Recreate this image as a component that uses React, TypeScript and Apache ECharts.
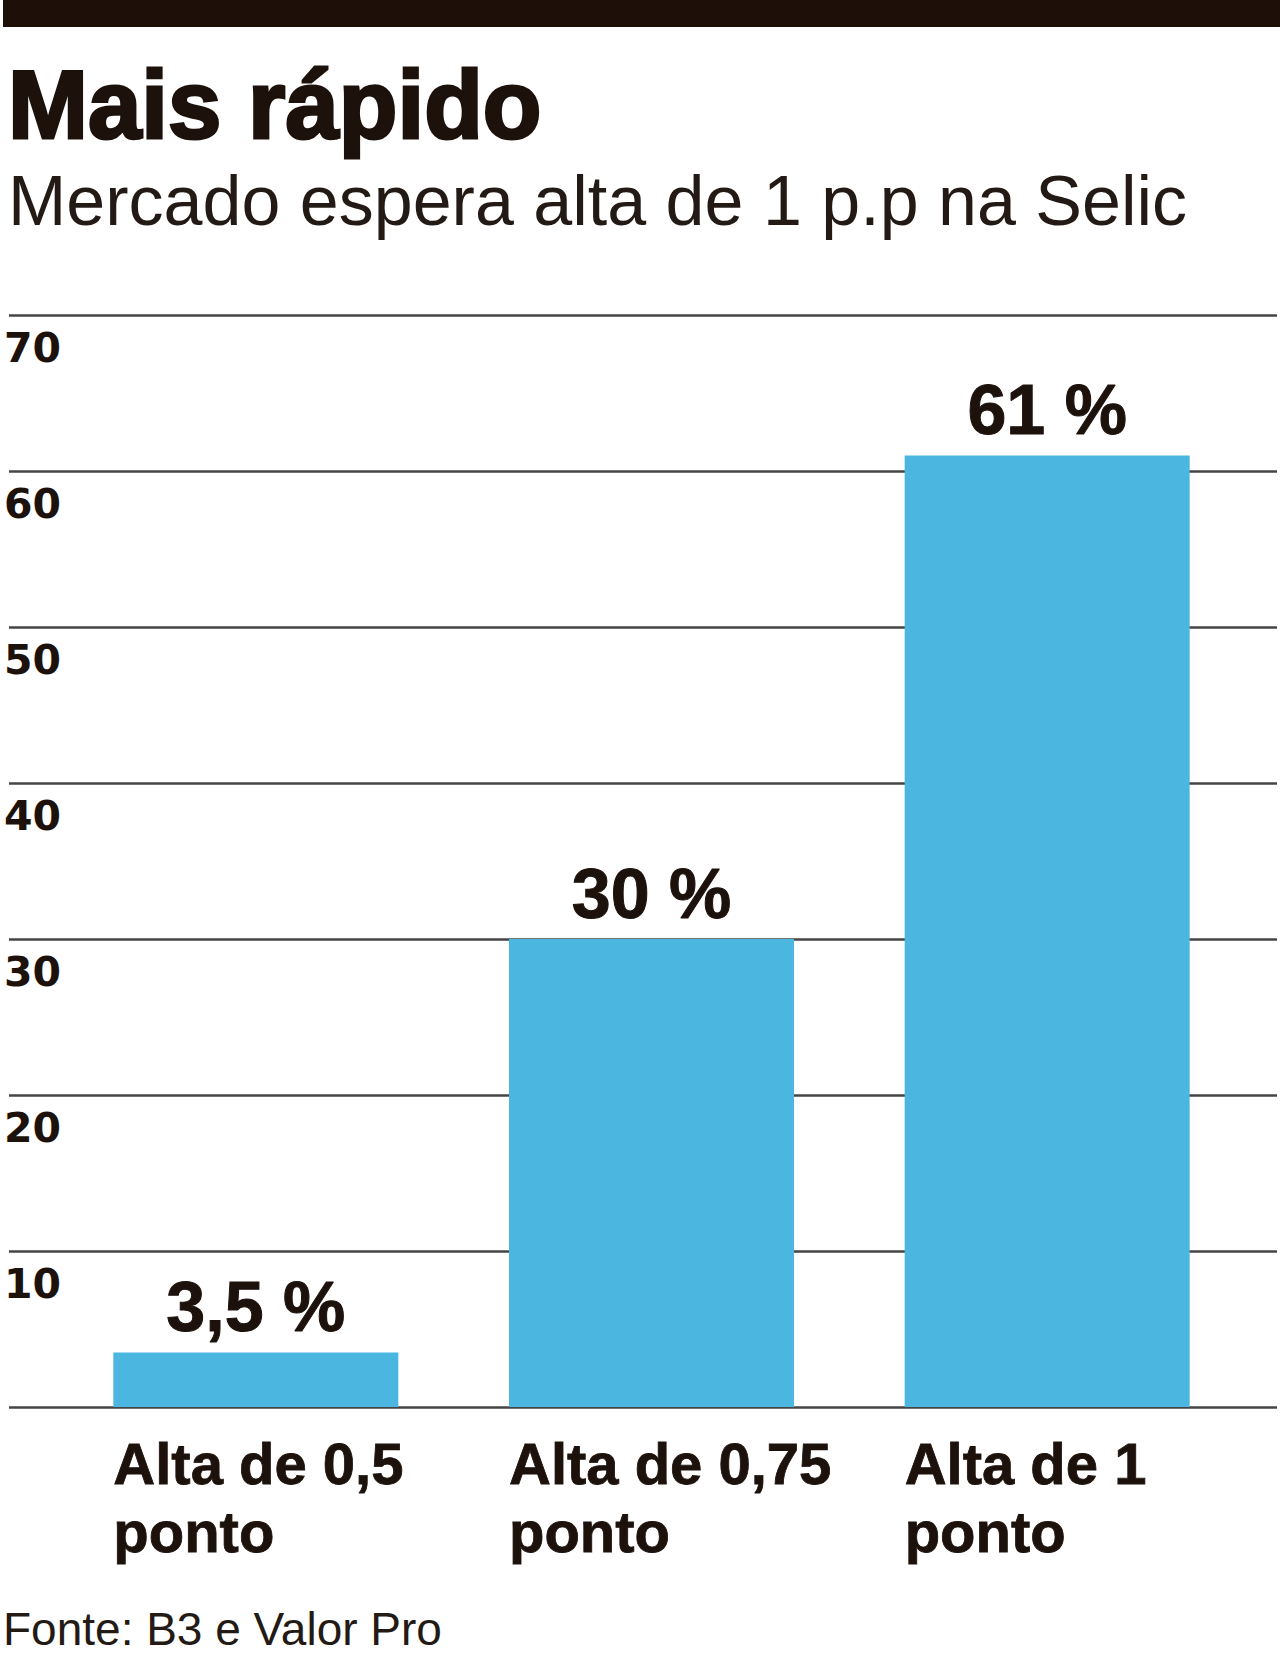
import React, { useEffect, useRef } from "react";
import * as echarts from "echarts";

const categories = ["Alta de 0,5\nponto", "Alta de 0,75\nponto", "Alta de 1\nponto"];
const values = [3.5, 30, 61];
const yTicks = [0, 10, 20, 30, 40, 50, 60, 70];

const INK = "#1c110b";
const BAR = "#4bb6e0";
const GRID = "#454545";
const SANS = "'Liberation Sans', Arial, sans-serif";

export default function App() {
  const ref = useRef<HTMLDivElement>(null);

  useEffect(() => {
    if (!ref.current) return;
    const chart = echarts.init(ref.current, null, { renderer: "svg" });
    const option = {
      animation: false,
      backgroundColor: "#ffffff",
      graphic: [
        {
          type: "rect",
          shape: { x: 3, y: 0, width: 1277, height: 27 },
          style: { fill: "#1e0f08" },
        },
      ],
      title: [
        {
          text: "Mais rápido",
          left: 8,
          top: 56,
          padding: 0,
          textStyle: {
            fontFamily: SANS,
            fontSize: 96,
            fontWeight: "bold",
            color: INK,
            lineHeight: 96,
            textBorderColor: INK,
            textBorderWidth: 3,
          },
        },
        {
          text: "Mercado espera alta de 1 p.p na Selic",
          left: 8,
          top: 166,
          padding: 0,
          textStyle: { fontFamily: SANS, fontSize: 70, fontWeight: "normal", color: "#231a15", lineHeight: 70 },
        },
        {
          text: "Fonte: B3 e Valor Pro",
          left: 3,
          top: 1606,
          padding: 0,
          textStyle: { fontFamily: SANS, fontSize: 46, fontWeight: "normal", color: "#231a15", lineHeight: 46 },
        },
      ],
      grid: [
        { left: 9, right: 3, top: 315, bottom: 1654 - 1407 },
        { left: 58, right: 35, top: 315, bottom: 1654 - 1407 },
      ],
      xAxis: [
        { gridIndex: 0, type: "value", show: false, min: 0, max: 1 },
        {
          gridIndex: 1,
          type: "category",
          data: categories,
          axisLine: { show: false },
          axisTick: { show: false },
          axisLabel: {
            interval: 0,
            align: "center",
            width: 285,
            margin: 22,
            formatter: (v: string) => v.split("\n").map((s) => `{a|${s}}`).join("\n"),
            rich: {
              a: {
                fontFamily: SANS,
                fontSize: 58,
                fontWeight: "bold",
                lineHeight: 68,
                color: INK,
                align: "left",
                textBorderColor: INK,
                textBorderWidth: 0.8,
              },
            },
          },
        },
      ],
      yAxis: [
        {
          gridIndex: 0,
          type: "value",
          min: yTicks[0],
          max: yTicks[yTicks.length - 1],
          interval: 10,
          axisLine: { show: false },
          axisTick: { show: false },
          splitLine: { show: true, lineStyle: { color: GRID, width: 2.5 } },
          axisLabel: {
            showMinLabel: false,
            align: "left",
            verticalAlign: "top",
            margin: 5,
            padding: [12, 0, 0, 0],
            fontFamily: "'DejaVu Sans', sans-serif",
            fontWeight: "bold",
            fontSize: 41,
            lineHeight: 42,
            color: INK,
          },
        },
        {
          gridIndex: 1,
          type: "value",
          min: yTicks[0],
          max: yTicks[yTicks.length - 1],
          interval: 10,
          show: false,
          splitLine: { show: false },
        },
      ],
      series: [
        {
          type: "bar",
          xAxisIndex: 1,
          yAxisIndex: 1,
          data: values,
          barWidth: 285,
          itemStyle: { color: BAR },
          label: {
            show: true,
            position: "top",
            distance: 10,
            formatter: (p: any) => String(p.value).replace(".", ",") + " %",
            fontFamily: SANS,
            fontSize: 70,
            fontWeight: "bold",
            lineHeight: 70,
            color: INK,
            textBorderColor: INK,
            textBorderWidth: 1,
          },
        },
      ],
    };
    chart.setOption(option as any);
    return () => chart.dispose();
  }, []);

  return (
    <div
      ref={ref}
      style={{ position: "absolute", left: 0, top: 0, width: 1280, height: 1654, background: "#fff" }}
    />
  );
}
